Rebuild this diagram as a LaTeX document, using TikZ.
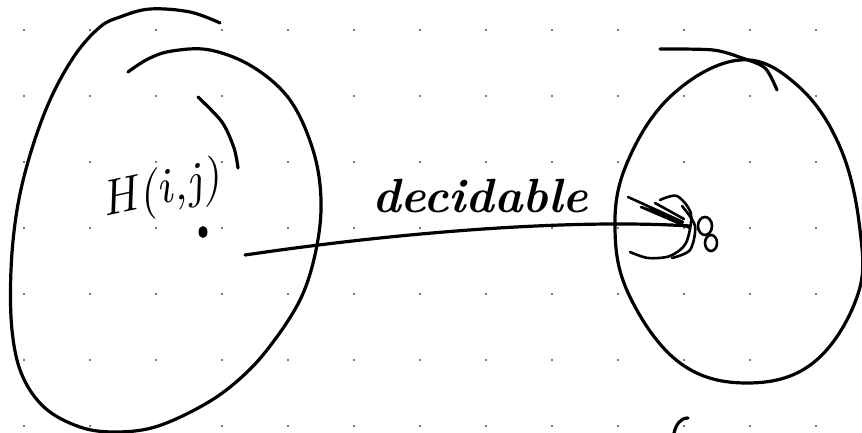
\documentclass[tikz,border=0pt]{standalone}
\begin{document}
\begin{tikzpicture}[x=1pt,y=-1pt,
  ink/.style={line width=3.2pt,line cap=round,line join=round},
  fine/.style={line width=2.6pt,line cap=round,line join=round},
  griddot/.style={fill=black!70},
  lbl/.style={inner sep=0pt}]
\useasboundingbox (0,0) rectangle (862,433);
\fill[white] (0,0) rectangle (862,433);
% dot grid
\foreach \i in {0,...,12}{\foreach \j in {0,...,6}{
  \fill[griddot] (24+66*\i,30+66*\j) circle (1.1pt);}}
% left set
\draw[ink] plot[smooth,tension=0.6] coordinates {(220,23) (190,12) (150,9) (120,17) (100,27) (75,55) (50,100) (30,155) (17,210) (11,270) (12,330) (22,375) (45,408) (80,427) (115,432) (155,427) (200,407) (235,383) (267,350) (300,300) (316,250) (321,200) (313,150) (290,100) (253,67) (210,50) (172,51) (148,59) (128,72)};
\draw[ink] plot[smooth] coordinates {(198,97) (222,122) (234,148) (238,168)};
\node[lbl,rotate=12,anchor=base] (h) at (164,204) {\fontsize{50}{58}\selectfont\itshape H(i,j)};
\fill (203,232) ellipse (4.5pt and 6pt);
% right set
\draw[ink] plot[smooth cycle,tension=0.65] coordinates {(740,60) (797,85) (840,147) (860,230) (857,297) (813,363) (747,383) (680,363) (630,297) (615,230) (627,163) (672,95)};
\draw[ink] plot[smooth] coordinates {(660,49) (713,50) (742,58) (765,68) (777,90)};
% connector
\coordinate (s) at (245,255);
\coordinate (e) at (690,226);
\draw[ink] (s) .. controls (380,235) and (560,218) .. (e);
\node[lbl,anchor=base] (d) at (480,212) {\fontsize{48}{56}\selectfont\bfseries\itshape decidable};
% scribbled head
\draw[fine] (628,197) -- (683,222) -- (641,207) -- (690,228);
\draw[fine] (655,203) -- (684,219);
\draw[fine] plot[smooth] coordinates {(660,200) (677,196) (691,214) (686,243) (670,256) (648,258) (630,252)};
\draw[fine] plot[smooth] coordinates {(682,206) (695,226) (690,250) (672,258)};
\draw[fine] (705,226) ellipse (7pt and 9pt);
\draw[fine] (711,243) ellipse (6pt and 8pt);
% bottom fragment
\draw[ink] (674,433) .. controls (676,425) and (680,418) .. (688,418);
\end{tikzpicture}
\end{document}
